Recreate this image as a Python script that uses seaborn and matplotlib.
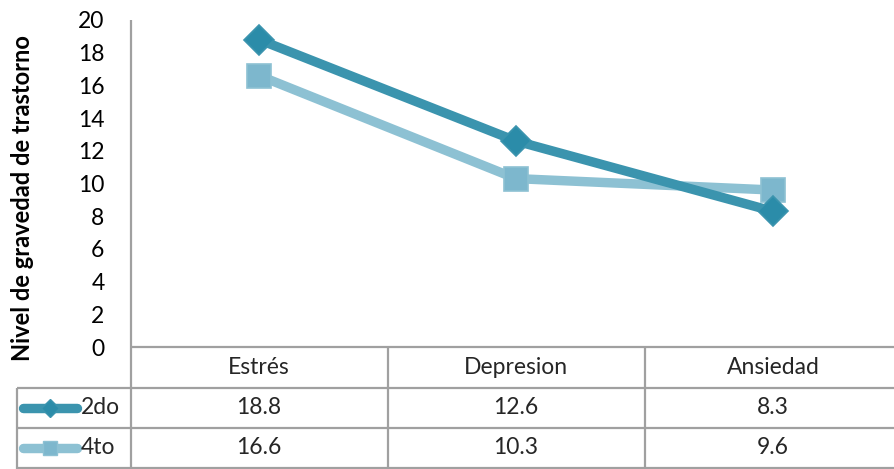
import matplotlib
matplotlib.use("Agg")
import matplotlib.pyplot as plt
import seaborn as sns
import pandas as pd

# Data
categories = ["Estrés", "Depresion", "Ansiedad"]
series_names = ["2do", "4to"]
values_2do = [18.8, 12.6, 8.3]
values_4to = [16.6, 10.3, 9.6]
y_ticks = [0, 2, 4, 6, 8, 10, 12, 14, 16, 18, 20]
y_label = "Nivel de gravedad de trastorno"

line_colors = {"2do": "#3B94AE", "4to": "#8DC1D3"}
marker_faces = {"2do": "#2B8CA9", "4to": "#7DB7CD"}
marker_shapes = {"2do": "D", "4to": "s"}
marker_sizes = {"2do": 15.5, "4to": 17.5}

df = pd.DataFrame({
    "categoria": categories * 2,
    "serie": [series_names[0]] * 3 + [series_names[1]] * 3,
    "valor": values_2do + values_4to,
})

sns.set_theme(style="white")
plt.rcParams["font.family"] = ["Lato", "DejaVu Sans"]

W, H = 894, 469
FS = 16.5
fig = plt.figure(figsize=(W / 100, H / 100), dpi=100)


def fx(px):
    return px / W


def fy(py):
    return 1 - py / H


# plot area: value axis at x=131, y=0 at 347 px, y=20 at 20 px
ax = fig.add_axes([fx(131), fy(347), fx(894) - fx(131), fy(20) - fy(347)])
sns.lineplot(data=df, x="categoria", y="valor", hue="serie", style="serie",
             palette=line_colors, markers=marker_shapes, dashes=False,
             linewidth=6.8, legend=False, ax=ax, sort=False)

for line, name in zip(ax.get_lines(), series_names):
    line.set_solid_capstyle("round")
    line.set_markersize(marker_sizes[name])
    line.set_markerfacecolor(marker_faces[name])
    line.set_markeredgecolor(line_colors[name])
    line.set_markeredgewidth(1.2)
    line.set_zorder(3 if name == "2do" else 2)

cat_w = 257.0
ax.set_xlim(-128 / cat_w, (894 - 259) / cat_w)
ax.set_ylim(0, 20)
ax.set_yticks(y_ticks)
ax.set_yticklabels([str(t) for t in y_ticks], fontsize=FS, color="#000000")
ax.tick_params(axis="y", length=0, pad=19)
ax.set_xticks([])
ax.set_xlabel("")
ax.set_ylabel("")
for s in ["top", "right", "bottom", "left"]:
    ax.spines[s].set_visible(False)
ax.patch.set_alpha(0)

fig.text(fx(23), fy(198), y_label, rotation=90, ha="center", va="center",
         fontsize=17, fontweight="bold", color="#000000")

# data table under the plot area
tab = fig.add_axes([0, 0, 1, 1], zorder=-1)
tab.set_xlim(0, W)
tab.set_ylim(H, 0)
tab.axis("off")
grid = dict(color="#A0A0A0", linewidth=1.6, solid_capstyle="butt")
tab.plot([131, 131], [20, 469], **grid)
tab.plot([131, 894], [347, 347], **grid)
tab.plot([17, 894], [388, 388], **grid)
tab.plot([17, 894], [428, 428], **grid)
tab.plot([17, 894], [468.5, 468.5], **grid)
tab.plot([17, 17], [388, 469], **grid)
for i in range(1, len(categories)):
    xb = 131 + cat_w * i
    tab.plot([xb, xb], [347, 469], **grid)

row_y = [408, 448]
for i, c in enumerate(categories):
    tab.text(259 + cat_w * i, 367, c, ha="center", va="center", fontsize=FS)
for r, (name, vals) in enumerate(zip(series_names, [values_2do, values_4to])):
    y = row_y[r]
    tab.plot([23, 77], [y, y], color=line_colors[name], linewidth=6.8,
             solid_capstyle="round")
    tab.plot([50], [y], marker=marker_shapes[name], markersize=marker_sizes[name] * 0.6,
             markerfacecolor=marker_faces[name], markeredgecolor=line_colors[name])
    tab.text(81, y, name, ha="left", va="center", fontsize=FS)
    for i, v in enumerate(vals):
        tab.text(259 + cat_w * i, y, f"{v:.1f}", ha="center", va="center", fontsize=FS)

fig.savefig("out.png", dpi=100)
